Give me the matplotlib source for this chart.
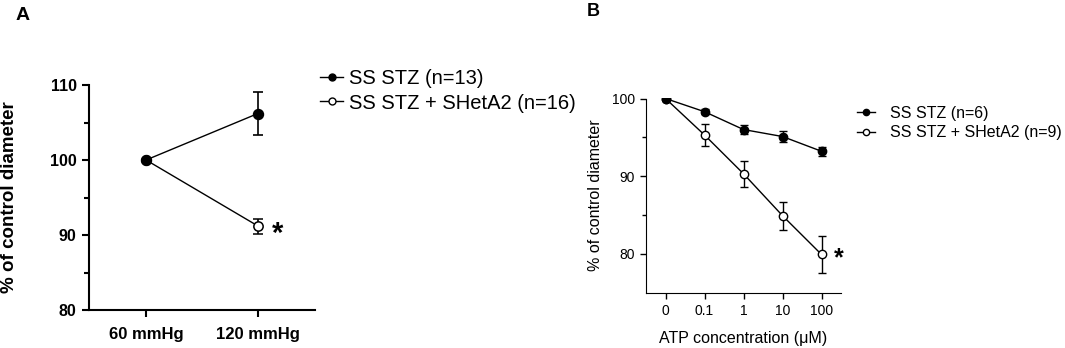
import numpy as np
import matplotlib.pyplot as plt
from matplotlib.lines import Line2D

plt.rcParams["font.family"] = ["Liberation Sans", "DejaVu Sans"]

# Panel A data
pressures = ["60 mmHg", "120 mmHg"]
a_stz = [100, 106.2]
a_stz_err = [0, 2.9]
a_shet = [100, 91.2]
a_shet_err = [0, 1.0]
a_names = ["SS STZ (n=13)", "SS STZ + SHetA2 (n=16)"]

# Panel B data
atp_labels = ["0", "0.1", "1", "10", "100"]
b_stz = [100, 98.3, 96.0, 95.1, 93.2]
b_stz_err = [0, 0.3, 0.6, 0.75, 0.6]
b_shet = [100, 95.3, 90.3, 84.9, 79.9]
b_shet_err = [0, 1.4, 1.65, 1.8, 2.4]
b_names = ["SS STZ (n=6)", "SS STZ + SHetA2 (n=9)"]

fig = plt.figure(figsize=(10.65, 3.48), dpi=100)

# ---- Panel A ----
axA = fig.add_axes([89 / 1065, 38 / 348, 226 / 1065, 225 / 348])
xa = np.arange(len(pressures))
axA.errorbar(xa, a_shet, yerr=a_shet_err, color="black", lw=1, marker="o",
             ms=6.7, mfc="white", mec="black", mew=1.1, capsize=3.6,
             elinewidth=1.2, capthick=1.2)
axA.errorbar(xa, a_stz, yerr=a_stz_err, color="black", lw=1, marker="o",
             ms=7.2, mfc="black", mec="black", capsize=3.6,
             elinewidth=1.2, capthick=1.2)
axA.set_xlim(-0.51, 1.51)
axA.set_ylim(80, 110)
axA.set_yticks([80, 90, 100, 110])
axA.set_yticks([85, 95, 105], minor=True)
axA.set_xticks(xa)
axA.set_xticklabels(pressures, fontweight="bold", fontsize=12)
for t in axA.get_yticklabels():
    t.set_fontweight("bold")
    t.set_fontsize(11.5)
axA.tick_params(axis="x", which="major", length=5, width=1.5, pad=7)
axA.tick_params(axis="y", which="major", length=5, width=1.5, pad=4)
axA.tick_params(axis="y", which="minor", length=3.5, width=1.5)
for s in ["top", "right"]:
    axA.spines[s].set_visible(False)
for s in ["left", "bottom"]:
    axA.spines[s].set_linewidth(1.5)
axA.set_ylabel("% of control diameter", fontweight="bold", fontsize=13.5)
axA.yaxis.set_label_coords(-0.315, 0.5)
axA.annotate("*", xy=(1, a_shet[1]), xytext=(10, -6), textcoords="offset points",
             fontsize=21, fontweight="bold", ha="left", va="center")
hA = [Line2D([], [], color="black", lw=1, marker="o", ms=5, mfc="black", mec="black"),
      Line2D([], [], color="black", lw=1, marker="o", ms=5, mfc="white", mec="black")]
fig.legend(hA, a_names, loc="center left", bbox_to_anchor=(320 / 1065, 1 - 91 / 348),
           frameon=False, fontsize=14.5, handlelength=1.15, handletextpad=0.3,
           labelspacing=0.25, borderpad=0, borderaxespad=0)
fig.text(23 / 1065, 1 - 16 / 348, "A", fontsize=14, fontweight="bold", ha="center", va="center")

# ---- Panel B ----
axB = fig.add_axes([646 / 1065, 55.5 / 348, 195 / 1065, 194 / 348])
xb = np.arange(len(atp_labels))
axB.errorbar(xb, b_shet, yerr=b_shet_err, color="black", lw=1, marker="o",
             ms=6, mfc="white", mec="black", mew=1, capsize=2.9,
             elinewidth=1, capthick=1)
axB.errorbar(xb, b_stz, yerr=b_stz_err, color="black", lw=1, marker="o",
             ms=6, mfc="black", mec="black", capsize=2.9,
             elinewidth=1, capthick=1)
axB.set_xlim(-0.5, 4.5)
axB.set_ylim(75, 100)
axB.set_yticks([80, 90, 100])
axB.set_yticks([85, 95], minor=True)
axB.set_xticks(xb)
axB.set_xticklabels(atp_labels)
axB.tick_params(axis="both", which="major", length=4, width=1, labelsize=10, pad=4)
axB.tick_params(axis="y", which="minor", length=3, width=1)
for s in ["top", "right"]:
    axB.spines[s].set_visible(False)
axB.set_ylabel("% of control diameter", fontsize=11.5)
axB.yaxis.set_label_coords(-0.22, 0.5)
axB.set_xlabel("ATP concentration (μM)", fontsize=11.5)
axB.xaxis.set_label_coords(0.5, -0.2)
axB.annotate("*", xy=(4, b_shet[4]), xytext=(9, -3), textcoords="offset points",
             fontsize=18, fontweight="bold", ha="left", va="center")
hB = [Line2D([], [], color="black", lw=1, marker="o", ms=4.5, mfc="black", mec="black"),
      Line2D([], [], color="black", lw=1, marker="o", ms=4.5, mfc="white", mec="black")]
fig.legend(hB, b_names, loc="center left", bbox_to_anchor=(857 / 1065, 1 - 123 / 348),
           frameon=False, fontsize=11.5, handlelength=1.15, handletextpad=0.9,
           labelspacing=0.3, borderpad=0, borderaxespad=0)
fig.text(593 / 1065, 1 - 11 / 348, "B", fontsize=13, fontweight="bold", ha="center", va="center")

fig.savefig("out.png", dpi=100)
